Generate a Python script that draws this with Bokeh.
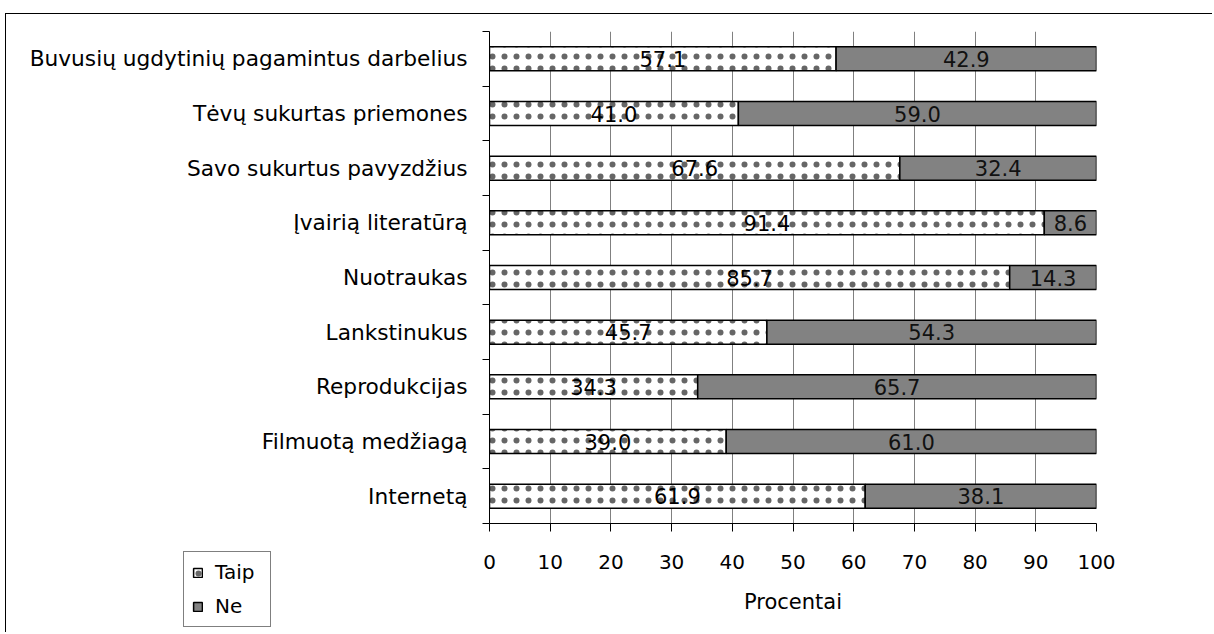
from bokeh.plotting import figure
from bokeh.models import ColumnDataSource, Range1d, FixedTicker, Legend, LegendItem
from bokeh.layouts import column
from bokeh.embed import file_html
from bokeh.resources import INLINE
from bokeh.core.properties import value

categories = [
    "Buvusių ugdytinių pagamintus darbelius",
    "Tėvų sukurtas priemones",
    "Savo sukurtus pavyzdžius",
    "Įvairią literatūrą",
    "Nuotraukas",
    "Lankstinukus",
    "Reprodukcijas",
    "Filmuotą medžiagą",
    "Internetą",
]
taip = [57.1, 41.0, 67.6, 91.4, 85.7, 45.7, 34.3, 39.0, 61.9]
ne = [42.9, 59.0, 32.4, 8.6, 14.3, 54.3, 65.7, 61.0, 38.1]
x_ticks = [0, 10, 20, 30, 40, 50, 60, 70, 80, 90, 100]
series_names = ["Taip", "Ne"]
x_title = "Procentai"

FONT = "DejaVu Sans"
n = len(categories)
ypos = [n - i - 0.5 for i in range(n)]
src = ColumnDataSource(dict(
    y=ypos,
    taip=taip,
    ne_end=[t + v for t, v in zip(taip, ne)],
    taip_mid=[t / 2 for t in taip],
    ne_mid=[t + v / 2 for t, v in zip(taip, ne)],
    taip_lbl=[f"{t:.1f}" for t in taip],
    ne_lbl=[f"{v:.1f}" for v in ne],
))

TAIP_STYLE = dict(fill_color="white", line_color="black", line_width=1.5,
                  hatch_pattern="dot", hatch_scale=12, hatch_weight=0.1,
                  hatch_color="#666666")
NE_STYLE = dict(fill_color="#828282", line_color="black", line_width=1.5)

p = figure(width=1207, height=619, x_range=Range1d(0, 100), y_range=Range1d(0, n),
           output_backend="svg", toolbar_location=None,
           min_border_left=483, min_border_right=117, min_border_top=17, min_border_bottom=110)
p.outline_line_color = None
p.styles = {"margin-left": "5px", "margin-top": "13px",
            "border-left": "1px solid black", "border-top": "1px solid black"}

p.hbar(y="y", left=0, right="taip", height=0.44, source=src, **TAIP_STYLE)
p.hbar(y="y", left="taip", right="ne_end", height=0.44, source=src, **NE_STYLE)

p.text(x="taip_mid", y="y", text="taip_lbl", source=src, text_align="center",
       text_baseline="middle", text_font=value(FONT), text_font_size="21px", text_color="black")
p.text(x="ne_mid", y="y", text="ne_lbl", source=src, text_align="center",
       text_baseline="middle", text_font=value(FONT), text_font_size="21px", text_color="#111111")

# x axis
p.xaxis.ticker = FixedTicker(ticks=x_ticks)
p.xaxis.major_tick_in = 0
p.xaxis.major_tick_out = 8
p.xaxis.minor_tick_line_color = None
p.xaxis.axis_line_color = "black"
p.xaxis.major_tick_line_color = "black"
p.xaxis.major_label_text_font = FONT
p.xaxis.major_label_text_font_size = "20px"
p.xaxis.major_label_text_color = "black"
p.xaxis.major_label_standoff = 23
p.xaxis.axis_label = x_title
p.xaxis.axis_label_text_font = FONT
p.xaxis.axis_label_text_font_size = "21px"
p.xaxis.axis_label_text_font_style = "normal"
p.xaxis.axis_label_text_color = "black"
p.xaxis.axis_label_standoff = 18

# y axis
p.yaxis.ticker = FixedTicker(ticks=ypos, minor_ticks=list(range(n + 1)))
p.yaxis.major_label_overrides = {y: c for y, c in zip(ypos, categories)}
p.yaxis.major_tick_line_color = None
p.yaxis.minor_tick_in = 0
p.yaxis.minor_tick_out = 7
p.yaxis.minor_tick_line_color = "black"
p.yaxis.axis_line_color = "black"
p.yaxis.major_label_text_font = FONT
p.yaxis.major_label_text_font_size = "21.7px"
p.yaxis.major_label_text_color = "black"
p.yaxis.major_label_standoff = 15

p.xgrid.ticker = FixedTicker(ticks=x_ticks)
p.xgrid.grid_line_color = "#808080"
p.ygrid.grid_line_color = None

# legend as a small separate figure, placed under the category labels
# (its bars use the same data but lie outside its visible range)
lf = figure(width=100, height=84, x_range=Range1d(-3, -2), y_range=Range1d(-3, -2),
            output_backend="svg", toolbar_location=None, min_border=0)
lf.axis.visible = False
lf.grid.visible = False
lf.outline_line_color = None
lf.background_fill_alpha = 0
lf.border_fill_alpha = 0
lr1 = lf.hbar(y="y", left=0, right="taip", height=0.44, source=src, **TAIP_STYLE)
lr2 = lf.hbar(y="y", left="taip", right="ne_end", height=0.44, source=src, **NE_STYLE)
legend = Legend(items=[LegendItem(label=series_names[0], renderers=[lr1]),
                       LegendItem(label=series_names[1], renderers=[lr2])],
                location="top_left")
legend.label_text_font = FONT
legend.label_text_font_size = "20px"
legend.label_text_color = "black"
legend.glyph_width = 11
legend.glyph_height = 11
legend.label_height = 22
legend.label_width = 47
legend.spacing = 10
legend.padding = 8
legend.margin = 1
legend.label_standoff = 12
legend.border_line_color = "black"
legend.border_line_width = 1
legend.background_fill_alpha = 1
lf.add_layout(legend)
lf.styles = {"position": "absolute", "left": "182px", "top": "550px"}

root = column(p, lf)
open("out.html", "w").write(file_html(root, INLINE))
